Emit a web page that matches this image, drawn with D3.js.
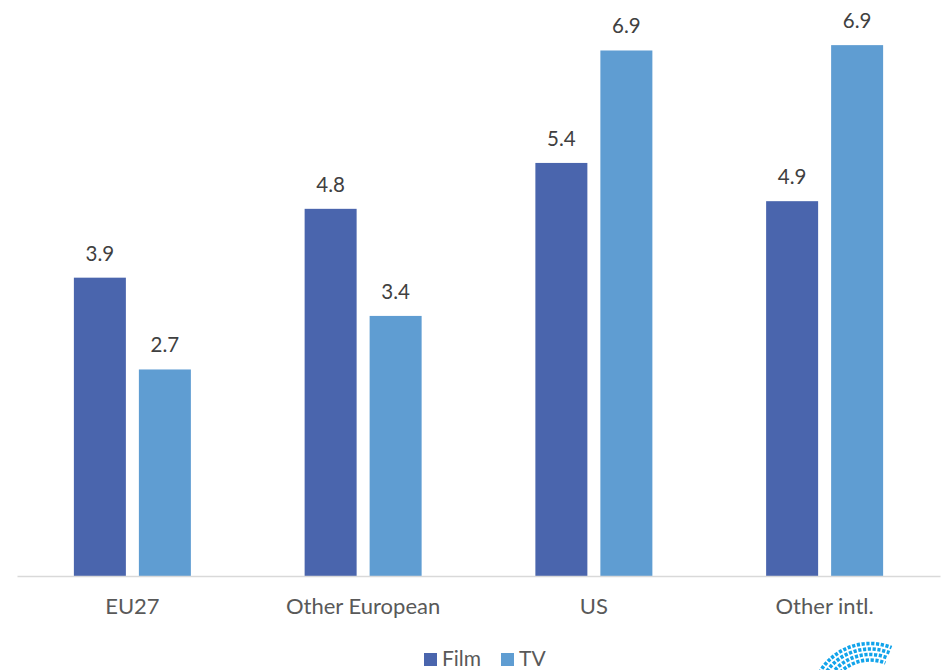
<!DOCTYPE html>
<html>
<head>
<meta charset="utf-8">
<script src="https://cdn.jsdelivr.net/npm/d3@7"></script>
<style>
  html, body { margin: 0; padding: 0; background: #ffffff; }
  svg { display: block; font-family: Lato, "Open Sans", "DejaVu Sans", sans-serif; }
</style>
</head>
<body>
<svg id="chart" width="945" height="670"></svg>
<script>
// Regions and the two content series
const categories = ["EU27", "Other European", "US", "Other intl."];
const seriesNames = ["Film", "TV"];
const filmValues = [3.9, 4.8, 5.4, 4.9];
const tvValues = [2.7, 3.4, 6.87, 6.94];
const seriesColors = ["#4a65ad", "#5f9dd2"];

const width = 945, height = 670;
const plot = { left: 17, right: 940, top: 0, bottom: 576 };

const svg = d3.select("#chart");

const rows = categories.map((c, i) => ({ category: c, values: [filmValues[i], tvValues[i]] }));

const x0 = d3.scaleBand()
  .domain(categories)
  .range([plot.left, plot.right]);

// Pair of bars sits centred in each region band
const groupWidth = 117;
const x1 = d3.scaleBand()
  .domain(seriesNames)
  .range([(x0.bandwidth() - groupWidth) / 2, (x0.bandwidth() + groupWidth) / 2])
  .paddingInner(0.2)
  .paddingOuter(0);

const y = d3.scaleLinear()
  .domain([0, 7.53])
  .range([plot.bottom, plot.top]);

const fmt = d3.format(".1f");

// Bars grouped by region
const groups = svg.append("g")
  .selectAll("g")
  .data(rows)
  .join("g")
  .attr("transform", d => `translate(${x0(d.category)},0)`);

const cells = d => d.values.map((v, k) => ({ series: seriesNames[k], value: v, k }));

groups.selectAll("rect")
  .data(cells)
  .join("rect")
  .attr("x", d => x1(d.series))
  .attr("y", d => y(d.value))
  .attr("width", x1.bandwidth())
  .attr("height", d => y(0) - y(d.value))
  .attr("fill", d => seriesColors[d.k]);

// Value labels above bars
groups.selectAll("text.value")
  .data(cells)
  .join("text")
  .attr("class", "value")
  .attr("x", d => x1(d.series) + x1.bandwidth() / 2)
  .attr("y", d => y(d.value) - 17)
  .attr("text-anchor", "middle")
  .attr("font-size", 20.5)
  .attr("fill", "#404040")
  .text(d => fmt(d.value));

// Category axis
const xAxis = svg.append("g")
  .attr("transform", `translate(0,${plot.bottom})`)
  .call(d3.axisBottom(x0).tickSize(0).tickPadding(0));
xAxis.select(".domain").attr("stroke", "#d9d9d9").attr("stroke-width", 1.3);
xAxis.selectAll(".tick text")
  .attr("dy", 0)
  .attr("y", 38)
  .attr("font-size", 22)
  .attr("font-family", "Lato, 'Open Sans', sans-serif")
  .attr("fill", "#595959");

// Legend
const legendItems = [
  { name: "Film", color: seriesColors[0], x: 424 },
  { name: "TV", color: seriesColors[1], x: 501 }
];
const legend = svg.append("g");
legendItems.forEach(item => {
  legend.append("rect")
    .attr("x", item.x).attr("y", 653)
    .attr("width", 13).attr("height", 13)
    .attr("fill", item.color);
  legend.append("text")
    .attr("x", item.x + 18).attr("y", 666)
    .attr("font-size", 21)
    .attr("fill", "#595959")
    .text(item.name);
});

// Small dotted-arc emblem in the lower right corner
const emblem = svg.append("g").attr("transform", "translate(870,702)");
const grad = svg.append("defs").append("linearGradient")
  .attr("id", "fade")
  .attr("gradientUnits", "userSpaceOnUse")
  .attr("x1", 815).attr("y1", 0).attr("x2", 885).attr("y2", 0);
grad.append("stop").attr("offset", 0).attr("stop-color", "#11a3ea").attr("stop-opacity", 1);
grad.append("stop").attr("offset", 0.45).attr("stop-color", "#11a3ea").attr("stop-opacity", 0.9);
grad.append("stop").attr("offset", 1).attr("stop-color", "#11a3ea").attr("stop-opacity", 0.05);
const ringRadii = [42, 47.5, 53, 58.5];
ringRadii.forEach(r => {
  const p = d3.path();
  p.arc(0, 0, r, -Math.PI * 0.86, -Math.PI * 0.38);
  emblem.append("path")
    .attr("d", p.toString())
    .attr("fill", "none")
    .attr("stroke", "url(#fade)")
    .attr("stroke-width", 3.6)
    .attr("stroke-dasharray", "3.2 1.6");
});
</script>
</body>
</html>
